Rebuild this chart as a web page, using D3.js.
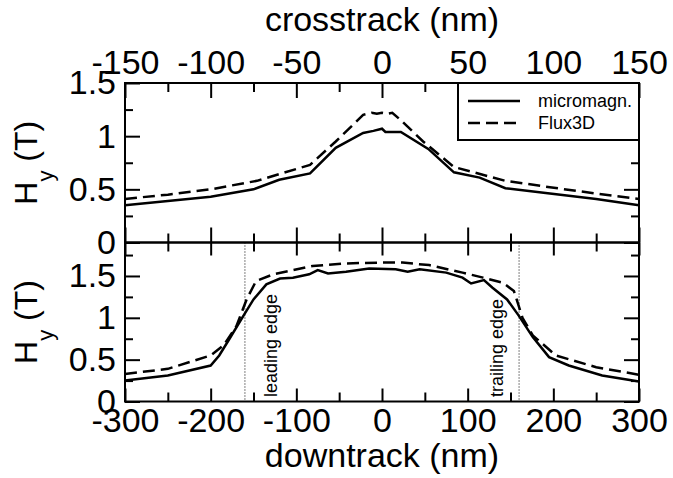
<!DOCTYPE html>
<html>
<head>
    <meta charset="utf-8">
    <script src="https://d3js.org/d3.v7.min.js"></script>
    <style>
        body { margin: 0; background: white; }
        svg { font-family: "Liberation Sans", Arial, sans-serif; }
        .axis text { font-size: 34px; fill: black; }
        .axis line { stroke: black; stroke-width: 2; }
        .axis path { display: none; }
    </style>
</head>
<body>
<div id="chart"></div>
<script>
// crosstrack profile (top panel)
const crossX     = [-150, -125, -100, -75, -60, -42, -27, -11, -5, 0, 2, 11, 27, 42, 57, 72, 98, 125, 150];
const crossMicro = [0.35, 0.39, 0.43, 0.50, 0.59, 0.65, 0.89, 1.03, 1.05, 1.07, 1.04, 1.04, 0.88, 0.66, 0.61, 0.51, 0.46, 0.41, 0.35];
const crossFluxX = [-150, -125, -100, -73, -42, -27, -11, -6, -3, 0, 3, 6, 11, 24, 42, 72, 98, 125, 150];
const crossFlux  = [0.41, 0.45, 0.50, 0.58, 0.73, 0.95, 1.20, 1.22, 1.21, 1.22, 1.21, 1.22, 1.15, 0.95, 0.71, 0.58, 0.52, 0.46, 0.41];

// downtrack profile (bottom panel)
const downX     = [-300, -250, -200, -190, -178, -162, -150, -135, -119, -104, -85, -75, -63, -42, -15, 16, 30, 44, 75, 94, 104, 119, 129, 146, 160, 176, 195, 218, 257, 300];
const downMicro = [0.25, 0.31, 0.43, 0.55, 0.75, 1.02, 1.22, 1.40, 1.47, 1.48, 1.52, 1.57, 1.53, 1.55, 1.59, 1.58, 1.55, 1.58, 1.54, 1.48, 1.41, 1.45, 1.36, 1.22, 1.02, 0.77, 0.53, 0.43, 0.31, 0.24];
const downFluxX = [-300, -250, -200, -185, -170, -158, -147, -127, -81, -42, -3, 24, 55, 94, 118, 141, 154, 164, 176, 203, 250, 300];
const downFlux  = [0.33, 0.39, 0.55, 0.67, 0.90, 1.22, 1.44, 1.52, 1.62, 1.65, 1.66, 1.66, 1.63, 1.54, 1.48, 1.42, 1.32, 1.00, 0.79, 0.55, 0.41, 0.32];

const crossTicks = [-150, -100, -50, 0, 50, 100, 150];
const crossMinor = [-125, -75, -25, 25, 75, 125];
const downTicks  = [-300, -200, -100, 0, 100, 200, 300];
const downMinor  = [-250, -150, -50, 50, 150, 250];
const yTicks     = [0, 0.5, 1, 1.5];
const yMinor     = [0.25, 0.75, 1.25, 1.75];

const seriesNames = ["micromagn.", "Flux3D"];
const edgeX      = [-160, 160];
const edgeLabels = ["leading edge", "trailing edge"];

const width = 673, height = 478;
const pLeft = 125, pRight = 639, pTop = 83, pMid = 242.5, pBottom = 401.5;

const svg = d3.select("#chart").append("svg")
    .attr("width", width)
    .attr("height", height);

const xCross = d3.scaleLinear().domain([-150, 150]).range([pLeft, pRight]);
const xDown  = d3.scaleLinear().domain([-300, 300]).range([pLeft, pRight]);
const yTop   = d3.scaleLinear().domain([0, 1.5]).range([pMid, pTop]);
const yBot   = d3.scaleLinear().domain([0, 1.9]).range([pBottom, pMid]);

const plain = d => String(d);

function addAxis(axis, tx, ty) {
    svg.append("g").attr("class", "axis")
        .attr("transform", `translate(${tx},${ty})`)
        .call(axis);
}

// top panel axes
addAxis(d3.axisTop(xCross).tickValues(crossTicks).tickSize(-15).tickPadding(9).tickFormat(plain), 0, pTop);
addAxis(d3.axisTop(xCross).tickValues(crossMinor).tickSize(-9).tickFormat(""), 0, pTop);
addAxis(d3.axisBottom(xCross).tickValues(crossTicks).tickSize(-15).tickFormat(""), 0, pMid);
addAxis(d3.axisBottom(xCross).tickValues(crossMinor).tickSize(-9).tickFormat(""), 0, pMid);
addAxis(d3.axisLeft(yTop).tickValues(yTicks).tickSize(-15).tickPadding(9).tickFormat(plain), pLeft, 0);
addAxis(d3.axisLeft(yTop).tickValues(yMinor.filter(v => v < 1.5)).tickSize(-8).tickFormat(""), pLeft, 0);
addAxis(d3.axisRight(yTop).tickValues(yTicks).tickSize(-15).tickFormat(""), pRight, 0);
addAxis(d3.axisRight(yTop).tickValues(yMinor.filter(v => v < 1.5)).tickSize(-8).tickFormat(""), pRight, 0);

// bottom panel axes
addAxis(d3.axisBottom(xDown).tickValues(downTicks).tickSize(-13).tickPadding(6).tickFormat(plain), 0, pBottom);
addAxis(d3.axisBottom(xDown).tickValues(downMinor).tickSize(-9).tickFormat(""), 0, pBottom);
addAxis(d3.axisTop(xDown).tickValues(downTicks).tickSize(-13).tickFormat(""), 0, pMid);
addAxis(d3.axisTop(xDown).tickValues(downMinor).tickSize(-9).tickFormat(""), 0, pMid);
addAxis(d3.axisLeft(yBot).tickValues(yTicks).tickSize(-15).tickPadding(9).tickFormat(plain), pLeft, 0);
addAxis(d3.axisLeft(yBot).tickValues(yMinor).tickSize(-8).tickFormat(""), pLeft, 0);
addAxis(d3.axisRight(yBot).tickValues(yTicks).tickSize(-15).tickFormat(""), pRight, 0);
addAxis(d3.axisRight(yBot).tickValues(yMinor).tickSize(-8).tickFormat(""), pRight, 0);

// frames
[[pTop, pMid], [pMid, pBottom]].forEach(([y0, y1]) => {
    svg.append("rect")
        .attr("x", pLeft).attr("y", y0)
        .attr("width", pRight - pLeft).attr("height", y1 - y0)
        .attr("fill", "none").attr("stroke", "black").attr("stroke-width", 2);
});

// edge markers
svg.selectAll(".edge")
    .data(edgeX)
    .enter().append("line")
    .attr("x1", d => xDown(d)).attr("x2", d => xDown(d))
    .attr("y1", pMid).attr("y2", pBottom)
    .attr("stroke", "black").attr("stroke-width", 1)
    .attr("stroke-dasharray", "1,2");

svg.selectAll(".edge-label")
    .data(edgeLabels)
    .enter().append("text")
    .attr("transform", (d, i) => `translate(${xDown(edgeX[i]) + (i === 0 ? 32 : -16)},397) rotate(-90)`)
    .attr("font-size", 18)
    .text(d => d);

// curves
const lineCross = d3.line().x(d => xCross(d[0])).y(d => yTop(d[1]));
const lineDown  = d3.line().x(d => xDown(d[0])).y(d => yBot(d[1]));

function drawCurve(gen, xs, ys, dashed) {
    svg.append("path")
        .datum(xs.map((x, i) => [x, ys[i]]))
        .attr("d", gen)
        .attr("fill", "none")
        .attr("stroke", "black")
        .attr("stroke-width", 2.5)
        .attr("stroke-dasharray", dashed ? "12,6" : null);
}
drawCurve(lineCross, crossX, crossMicro, false);
drawCurve(lineCross, crossFluxX, crossFlux, true);
drawCurve(lineDown, downX, downMicro, false);
drawCurve(lineDown, downFluxX, downFlux, true);

// legend
const lg = svg.append("g");
lg.append("rect")
    .attr("x", 458).attr("y", pTop).attr("width", pRight - 458).attr("height", 57)
    .attr("fill", "white").attr("stroke", "black").attr("stroke-width", 2);
seriesNames.forEach((name, i) => {
    const y = 101 + i * 22;
    lg.append("line")
        .attr("x1", 468).attr("x2", 520).attr("y1", y).attr("y2", y)
        .attr("stroke", "black").attr("stroke-width", 2.5)
        .attr("stroke-dasharray", i === 1 ? "12,6" : null);
    lg.append("text")
        .attr("x", 538).attr("y", y + 6)
        .attr("font-size", 18)
        .text(name);
});

// axis titles
svg.append("text")
    .attr("x", (pLeft + pRight) / 2).attr("y", 31)
    .attr("text-anchor", "middle").attr("font-size", 34)
    .text("crosstrack (nm)");
svg.append("text")
    .attr("x", (pLeft + pRight) / 2).attr("y", 467)
    .attr("text-anchor", "middle").attr("font-size", 34)
    .text("downtrack (nm)");

[(pTop + pMid) / 2, (pMid + pBottom) / 2].forEach(cy => {
    const t = svg.append("text")
        .attr("transform", `translate(37,${cy}) rotate(-90)`)
        .attr("text-anchor", "middle").attr("font-size", 32);
    t.append("tspan").text("H");
    t.append("tspan").attr("dy", 16).attr("font-size", 22).text("y");
    t.append("tspan").attr("dy", -16).text(" (T)");
});
</script>
</body>
</html>
